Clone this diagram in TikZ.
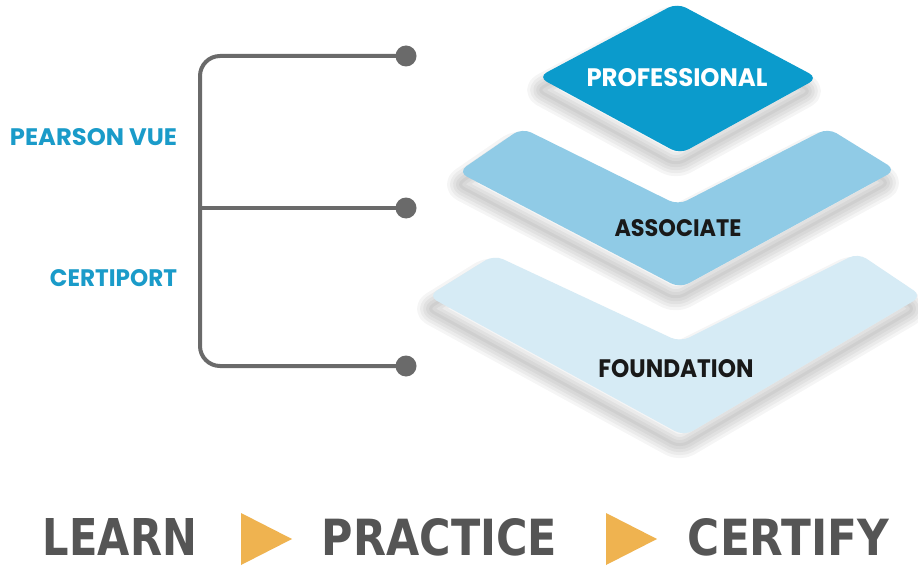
\documentclass[tikz,border=0pt]{standalone}
\usepackage{fontspec}
\usepackage{graphicx}
\newfontfamily\pop{Poppins}
\newfontfamily\dvc{DejaVu Sans Condensed}
\definecolor{profc}{HTML}{0B9BCC}
\definecolor{assocc}{HTML}{90CBE6}
\definecolor{foundc}{HTML}{D6EBF5}
\definecolor{brk}{HTML}{6A6A6A}
\definecolor{lbl}{HTML}{1A9BC9}
\definecolor{bottomtxt}{HTML}{555555}
\definecolor{tric}{HTML}{EFB350}
\newcommand\fitbox[3]{\resizebox{#1}{#2}{#3}}
\newcommand\softshadow[2]{%
  \path[fill=black, opacity=0.04, rounded corners=10pt, shift={#1}] #2;
  \foreach \r in {12,9,6,3}{%
    \path[draw=black, line width=2*\r pt, line join=round,
          opacity=0.04, rounded corners=10pt, shift={#1}] #2;
  }%
}
\def\foundpath{(494,255) -- (680,342) -- (858,253) -- (922,296) -- (684,436) -- (428,296) -- cycle}
\def\assocpath{(522,128) -- (678,205) -- (828,128) -- (896,170) -- (680,288) -- (458,172) -- cycle}
\def\profpath{(677,3) -- (818,78) -- (680,154) -- (538,77) -- cycle}
\begin{document}
\begin{tikzpicture}[x=1pt,y=-1pt,
  levelshape/.style={rounded corners=10pt},
  bracketline/.style={draw=brk, line width=4pt, rounded corners=20pt},
  dotnode/.style={circle, fill=brk, inner sep=0pt, minimum size=21pt},
  txt/.style={inner sep=0pt, outer sep=0pt},
  tri/.style={fill=tric}]
\useasboundingbox (0,0) rectangle (918,567);
\fill[white] (0,0) rectangle (918,567);
% levels
\softshadow{(-4,13)}{\foundpath}
\fill[foundc, levelshape] \foundpath;
\softshadow{(-4,13)}{\assocpath}
\fill[assocc, levelshape] \assocpath;
\softshadow{(-4,13)}{\profpath}
\fill[profc, levelshape] \profpath;
\node[txt, text=white] (prof) at (677,78) {\fitbox{181pt}{18pt}{\pop\bfseries PROFESSIONAL}};
\node[txt, text=black!90] (assoc) at (678,228) {\fitbox{127pt}{17pt}{\pop\bfseries ASSOCIATE}};
\node[txt, text=black!90] (found) at (676,369) {\fitbox{155pt}{18pt}{\pop\bfseries FOUNDATION}};
% bracket
\node[dotnode] (d1) at (406,56) {};
\node[dotnode] (d2) at (406,208) {};
\node[dotnode] (d3) at (406,366) {};
\coordinate (bt) at (200,56);
\coordinate (bm) at (200,208);
\coordinate (bb) at (200,366);
\draw[bracketline] (d1.center) -- (bt) -- (bb) -- (d3.center);
\draw[bracketline] (bm) -- (d2.center);
\node[txt, text=lbl] (pv) at (93.5,137) {\fitbox{167pt}{17pt}{\pop\bfseries PEARSON VUE}};
\node[txt, text=lbl] (cp) at (113.5,278) {\fitbox{127pt}{17pt}{\pop\bfseries CERTIPORT}};
% bottom row
\node[txt, text=bottomtxt] (learn) at (120,537) {\fitbox{154pt}{37pt}{\dvc\bfseries LEARN}};
\node[txt, text=bottomtxt] (practice) at (439.5,537) {\fitbox{235pt}{37pt}{\dvc\bfseries PRACTICE}};
\node[txt, text=bottomtxt] (certify) at (788.5,537) {\fitbox{201pt}{37pt}{\dvc\bfseries CERTIFY}};
\fill[tri] (241,513) -- (292,539) -- (241,565) -- cycle;
\fill[tri] (606,513) -- (657,539) -- (606,565) -- cycle;
\end{tikzpicture}
\end{document}
